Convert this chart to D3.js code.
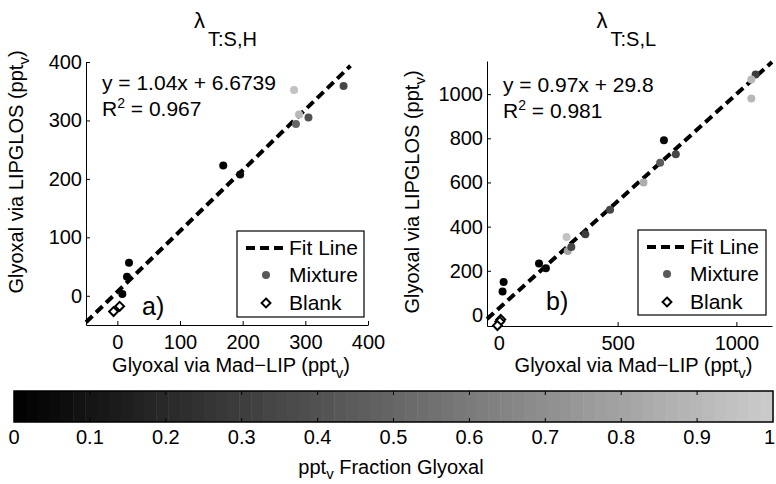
<!DOCTYPE html>
<html><head><meta charset="utf-8">
<script src="https://cdn.jsdelivr.net/npm/d3@7"></script>
<style>body{margin:0;background:#fff}svg{display:block}text{font-family:"Liberation Sans",Arial,sans-serif;fill:#000}</style>
</head><body>
<script>
// ---- data ----
const leftX = [282, 361, 290, 285, 305, 169, 196, 18.6, 15.4, 8];
const leftY = [352, 359, 310, 294, 305, 223, 207.5, 56.5, 32.5, 3];
const leftFrac = [0.95, 0.35, 0.9, 0.5, 0.4, 0, 0.05, 0, 0, 0];
const leftBlankX = [-6, 3.7];
const leftBlankY = [-27, -18];
const rightX = [1081, 1063, 1063, 695, 745, 679, 609, 468, 364, 285, 290, 305, 169, 198, 20, 15.5];
const rightY = [1089, 1066, 980, 791, 728, 689, 600, 476, 366, 353, 290, 308, 233, 212, 149, 106];
const rightFrac = [0.3, 0.9, 0.9, 0.05, 0.35, 0.45, 0.85, 0.35, 0.3, 0.95, 0.8, 0.35, 0, 0.05, 0, 0];
const rightBlankX = [8, 4, -6];
const rightBlankY = [-20, -30, -48];
const leftTicks = [0, 100, 200, 300, 400];
const rightXTicks = [0, 500, 1000];
const rightYTicks = [0, 200, 400, 600, 800, 1000];
const cbTicks = [0, 0.1, 0.2, 0.3, 0.4, 0.5, 0.6, 0.7, 0.8, 0.9, 1];
const fitLeft = {m: 1.04, b: 6.6739, x0: -50, x1: 372, eq: "y = 1.04x + 6.6739", r2: "0.967"};
const fitRight = {m: 0.97, b: 29.8, x0: -50, x1: 1150, eq: "y = 0.97x + 29.8", r2: "0.981"};
const legendLabels = ["Fit Line", "Mixture", "Blank"];

const W = 776, H = 484;
const svg = d3.select("body").append("svg").attr("width", W).attr("height", H);
const gray = d3.scaleLinear().domain([0, 1]).range(["#000000", "#cccccc"]);

function panel(o) {
  const g = svg.append("g");
  const x = d3.scaleLinear().domain(o.xd).range(o.xr);
  const y = d3.scaleLinear().domain(o.yd).range(o.yr);
  const xa = g.append("g").attr("transform", `translate(0,${o.yr[0]})`)
    .call(d3.axisBottom(x).tickValues(o.xt).tickFormat(d3.format("d")).tickSizeInner(-4).tickSizeOuter(0).tickPadding(10));
  const ya = g.append("g").attr("transform", `translate(${o.xr[0]},0)`)
    .call(d3.axisLeft(y).tickValues(o.yt).tickFormat(d3.format("d")).tickSizeInner(-4).tickSizeOuter(0).tickPadding(4));
  [xa, ya].forEach(a => {
    a.selectAll("text").style("font-size", "20px");
    a.selectAll("path,line").attr("stroke", "#000");
    a.attr("font-family", null);
  });
  // fit line
  g.append("line")
    .attr("x1", x(o.fit.x0)).attr("y1", y(o.fit.m * o.fit.x0 + o.fit.b))
    .attr("x2", x(o.fit.x1)).attr("y2", y(o.fit.m * o.fit.x1 + o.fit.b))
    .attr("stroke", "#000").attr("stroke-width", 4).attr("stroke-dasharray", "9,5");
  // points
  g.selectAll("circle.pt").data(o.px.map((v, i) => [v, o.py[i], o.pf[i]])).enter()
    .append("circle").attr("class", "pt")
    .attr("cx", d => x(d[0])).attr("cy", d => y(d[1])).attr("r", 4)
    .attr("fill", d => gray(d[2]));
  // blanks
  const dia = d3.symbol().type(d3.symbolDiamond2).size(50);
  g.selectAll("path.bl").data(o.bx.map((v, i) => [v, o.by[i]])).enter()
    .append("path").attr("class", "bl").attr("d", dia)
    .attr("transform", d => `translate(${x(d[0])},${y(d[1])})`)
    .attr("fill", "#fff").attr("stroke", "#000").attr("stroke-width", 2);
  // equation
  g.append("text").attr("x", o.eqX).attr("y", o.eqY).style("font-size", "21px").text(o.fit.eq);
  const r = g.append("text").attr("x", o.eqX).attr("y", o.eqY + 26).style("font-size", "21px");
  r.append("tspan").text("R");
  r.append("tspan").attr("dy", -8).style("font-size", "14px").text("2");
  r.append("tspan").attr("dy", 8).text(" = " + o.fit.r2);
  // title
  const cx = (o.xr[0] + o.xr[1]) / 2;
  g.append("text").attr("x", cx - 33).attr("y", 28).style("font-size", "22px").text("λ");
  g.append("text").attr("x", cx - 19).attr("y", 46).style("font-size", "20px").text(o.sub);
  // x label
  const xl = g.append("text").attr("x", cx + 4).attr("y", 372).attr("text-anchor", "middle").style("font-size", "20px");
  xl.append("tspan").text("Glyoxal via Mad−LIP (ppt");
  xl.append("tspan").attr("dy", 6).style("font-size", "15px").text("v");
  xl.append("tspan").attr("dy", -6).text(")");
  // y label
  const yl = g.append("text").attr("transform", `translate(${o.ylX},${o.ylY}) rotate(-90)`)
    .attr("text-anchor", "middle").style("font-size", "20px");
  yl.append("tspan").text("Glyoxal via LIPGLOS (ppt");
  yl.append("tspan").attr("dy", 6).style("font-size", "15px").text("v");
  yl.append("tspan").attr("dy", -6).text(")");
  // panel letter
  g.append("text").attr("x", o.letX).attr("y", o.letY).style("font-size", "25px").text(o.letter);
  // legend
  const L = o.leg;
  g.append("rect").attr("x", L[0]).attr("y", L[1]).attr("width", L[2]).attr("height", L[3])
    .attr("fill", "#fff").attr("stroke", "#000").attr("stroke-width", 1.2);
  const rows = [L[1] + 17, L[1] + 44, L[1] + 72];
  g.append("line").attr("x1", L[0] + 9).attr("x2", L[0] + 48).attr("y1", rows[0]).attr("y2", rows[0])
    .attr("stroke", "#000").attr("stroke-width", 4).attr("stroke-dasharray", "9,5");
  g.append("circle").attr("cx", L[0] + 29).attr("cy", rows[1]).attr("r", 4).attr("fill", "#595959");
  g.append("path").attr("d", dia).attr("transform", `translate(${L[0] + 29},${rows[2]})`)
    .attr("fill", "#fff").attr("stroke", "#000").attr("stroke-width", 2);
  legendLabels.forEach((s, i) => {
    g.append("text").attr("x", L[0] + 52).attr("y", rows[i] + 7).style("font-size", "21px").text(s);
  });
}

panel({xd: [-50, 400], xr: [86, 368], yd: [-50, 400], yr: [325, 62], xt: leftTicks, yt: leftTicks,
  fit: fitLeft, px: leftX, py: leftY, pf: leftFrac, bx: leftBlankX, by: leftBlankY,
  eqX: 102, eqY: 90, sub: "T:S,H", ylX: 23, ylY: 172, letter: "a)", letX: 142, letY: 315,
  leg: [237, 231, 127, 86]});
panel({xd: [-50, 1150], xr: [487, 772], yd: [-50, 1150], yr: [326, 61], xt: rightXTicks, yt: rightYTicks,
  fit: fitRight, px: rightX, py: rightY, pf: rightFrac, bx: rightBlankX, by: rightBlankY,
  eqX: 503, eqY: 92, sub: "T:S,L", ylX: 419, ylY: 192, letter: "b)", letX: 546, letY: 310,
  leg: [638, 230, 128, 85]});

// colorbar
const cb = svg.append("g");
const cbx = d3.scaleLinear().domain([0, 1]).range([14, 773]);
const cbTop = 391, cbBot = 422, N = 64;
const bands = d3.range(N);
cb.selectAll("rect.band").data(bands).enter().append("rect").attr("class", "band")
  .attr("x", i => cbx(i / N)).attr("y", cbTop)
  .attr("width", i => cbx((i + 1) / N) - cbx(i / N) + 0.5).attr("height", cbBot - cbTop)
  .attr("fill", i => gray((i + 0.5) / N));
cb.append("rect").attr("x", cbx(0)).attr("y", cbTop).attr("width", cbx(1) - cbx(0)).attr("height", cbBot - cbTop)
  .attr("fill", "none").attr("stroke", "#000").attr("stroke-width", 1.5);
cb.selectAll("line.tt").data(cbTicks.slice(1, -1)).enter().append("line")
  .attr("x1", d => cbx(d)).attr("x2", d => cbx(d)).attr("y1", cbTop).attr("y2", cbTop + 4).attr("stroke", "#000");
cb.selectAll("line.tb").data(cbTicks.slice(1, -1)).enter().append("line")
  .attr("x1", d => cbx(d)).attr("x2", d => cbx(d)).attr("y1", cbBot).attr("y2", cbBot - 4).attr("stroke", "#000");
cb.selectAll("text.cl").data(cbTicks).enter().append("text")
  .attr("x", d => d === 1 ? 775 : cbx(d)).attr("y", 444)
  .attr("text-anchor", d => d === 1 ? "end" : "middle").style("font-size", "20px")
  .text(d => d3.format("")(d));
const ct = cb.append("text").attr("x", 391).attr("y", 474).attr("text-anchor", "middle").style("font-size", "20px");
ct.append("tspan").text("ppt");
ct.append("tspan").attr("dy", 5).style("font-size", "15px").text("v");
ct.append("tspan").attr("dy", -5).text(" Fraction Glyoxal");
</script>
</body></html>
